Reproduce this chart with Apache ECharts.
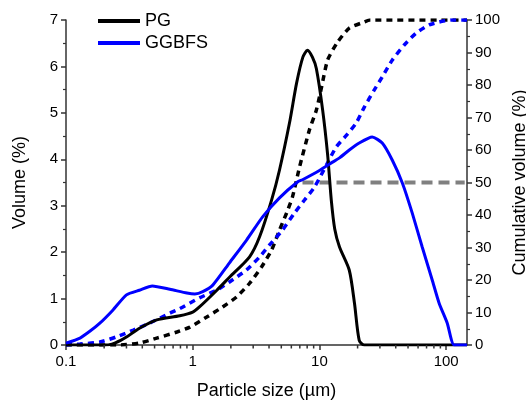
<!DOCTYPE html>
<html><head><meta charset="utf-8">
<script src="https://cdn.jsdelivr.net/npm/echarts@6/dist/echarts.min.js"></script>
<style>html,body{margin:0;padding:0;background:#fff}#c{width:526px;height:401px}</style>
</head><body><div id="c"></div>
<script>
// Particle size (µm) and volume (%) for PG
const pgSize = [0.1,0.2,0.23,0.27,0.3,0.38,0.52,0.79,1.0,1.13,1.55,1.95,2.81,3.37,4.19,4.84,5.8,6.6,7.4,8.05,8.8,9.46,10.6,11.6,12.4,13.2,14.4,17.2,18.9,20.6,22.6,146];
const pgVol  = [0,0,0.02,0.1,0.17,0.36,0.54,0.63,0.71,0.82,1.18,1.46,1.9,2.33,3.12,3.77,4.78,5.64,6.2,6.35,6.2,5.95,5.06,4.1,3.12,2.5,2.11,1.61,0.9,0.1,0,0];
// GGBFS
const ggSize = [0.1,0.129,0.155,0.185,0.234,0.3,0.38,0.48,0.66,0.9,1.04,1.2,1.44,1.95,2.66,3.56,4.84,6.71,7.35,10,12.4,14.4,17.2,20.6,26.1,31.3,37.6,45.1,54,64.7,77.6,88,102,115.6,146];
const ggVol  = [0.04,0.15,0.3,0.47,0.75,1.08,1.18,1.27,1.2,1.12,1.1,1.15,1.29,1.77,2.26,2.76,3.17,3.51,3.56,3.76,3.92,4.03,4.2,4.35,4.48,4.35,3.98,3.49,2.84,2.11,1.4,0.9,0.47,0,0];
// Cumulative volume (%)
const pgCumSize = [0.1,0.27,0.38,0.52,0.75,0.95,1.29,1.72,2.22,2.81,3.49,4.19,4.84,5.5,6.12,6.97,8.34,9.46,10.4,11.6,13.9,17.2,22.6,25,146];
const pgCum     = [0,0,0.6,2.1,4,5.5,8.6,11.7,14.8,19,24,29.2,35.4,40.6,45.5,54.8,66.2,72.3,79.4,87.7,93.2,97.5,99.4,100,100];
const ggCumSize = [0.1,0.129,0.185,0.25,0.34,0.46,0.66,0.79,1.13,1.55,1.95,2.66,3.37,4.04,5.12,6.35,7.62,9.14,11.4,13.6,16.3,19.5,22.6,27.1,31.3,37.6,46.7,58,73.5,93,110,146];
const ggCum     = [0,0.3,0.9,2.5,4.6,6.8,9.8,11.2,14.5,16.9,19.4,23.1,27.1,30.8,35.4,40.6,44.6,48.6,55.5,61,64.5,68.3,73.2,78.5,82.5,87.7,92.3,96,98.5,99.6,100,100];
// d50 reference line
const refSize = [7.35,140];
const refCum  = [50,50];
// ticks
const xMajorTicks = [0.1,1,10,100];
const xMinorTicks = [0.2,0.3,0.4,0.5,0.6,0.7,0.8,0.9,2,3,4,5,6,7,8,9,20,30,40,50,60,70,80,90];

const zip = (a,b)=>a.map((v,i)=>[v,b[i]]);
const FONT = 'Liberation Sans, Arial, sans-serif';
const axisCol = '#333';
const chart = echarts.init(document.getElementById('c'), null, {renderer:'canvas'});
chart.setOption({
  animation:false,
  backgroundColor:'#fff',
  grid:{left:66,right:59,top:20,bottom:56,outerBoundsMode:'none',containLabel:false},
  legend:{
    data:['PG','GGBFS'], orient:'vertical', left:98, top:12, padding:0, itemWidth:42, itemHeight:4, itemGap:4,
    icon:'rect', textStyle:{fontFamily:FONT,fontSize:18,color:'#000'}, selectedMode:false
  },
  xAxis:{
    type:'log', logBase:10, min:0.1, max:146, position:'bottom',
    name:'Particle size (µm)', nameLocation:'middle', nameGap:37,
    nameTextStyle:{fontFamily:FONT,fontSize:18,color:'#000'},
    axisLine:{show:true,onZero:false,lineStyle:{color:axisCol,width:1.5}},
    axisTick:{show:true,inside:false,length:5,customValues:xMajorTicks,lineStyle:{color:axisCol,width:1.5}},
    axisLabel:{show:true,customValues:xMajorTicks,margin:9,fontFamily:FONT,fontSize:15,color:'#000',
      formatter:v=>{const l=Math.log10(v);return Math.abs(l-Math.round(l))<1e-6?String(+v.toPrecision(3)):'';}},
    splitLine:{show:false}
  },
  yAxis:[{
    type:'value', min:0, max:7, interval:1, position:'left',
    name:'Volume (%)', nameLocation:'middle', nameGap:37, nameRotate:90,
    nameTextStyle:{fontFamily:FONT,fontSize:18,color:'#000'},
    axisLine:{show:true,onZero:false,lineStyle:{color:axisCol,width:1.5}},
    axisTick:{show:true,inside:false,length:5,lineStyle:{color:axisCol,width:1.5}},
    minorTick:{show:true,splitNumber:2,length:3,lineStyle:{color:axisCol,width:1.2}},
    axisLabel:{margin:8,fontFamily:FONT,fontSize:15,color:'#000'},
    splitLine:{show:false}
  },{
    type:'value', min:0, max:100, interval:10, position:'right',
    name:'Cumulative volume (%)', nameLocation:'middle', nameGap:42, nameRotate:90,
    nameTextStyle:{fontFamily:FONT,fontSize:18,color:'#000'},
    axisLine:{show:true,onZero:false,lineStyle:{color:axisCol,width:1.5}},
    axisTick:{show:true,inside:false,length:5,lineStyle:{color:axisCol,width:1.5}},
    minorTick:{show:true,splitNumber:2,length:3,lineStyle:{color:axisCol,width:1.2}},
    axisLabel:{margin:8,fontFamily:FONT,fontSize:15,color:'#000'},
    splitLine:{show:false}
  }],
  series:[
    {name:'minorTicks',type:'custom',clip:false,silent:true,z:10,
     data:xMinorTicks.map(v=>[v,0]),
     renderItem:(params,api)=>{
       const p=api.coord([api.value(0),0]);
       return {type:'line',shape:{x1:p[0],y1:p[1],x2:p[0],y2:p[1]+3.5},style:{stroke:axisCol,lineWidth:1.5}};
     }},
    {name:'d50',type:'line',yAxisIndex:1,data:zip(refSize,refCum),showSymbol:false,
     lineStyle:{color:'#808080',width:4,type:[11,6],cap:'butt'},z:1},
    {name:'PG',type:'line',data:zip(pgSize,pgVol),showSymbol:false,smooth:0.25,
     itemStyle:{color:'#000'},lineStyle:{color:'#000',width:3},z:3},
    {name:'GGBFS',type:'line',data:zip(ggSize,ggVol),showSymbol:false,smooth:0.2,
     itemStyle:{color:'#0000ff'},lineStyle:{color:'#0000ff',width:3},z:3},
    {name:'PG cumulative',type:'line',yAxisIndex:1,data:zip(pgCumSize,pgCum),showSymbol:false,smooth:0.2,
     lineStyle:{color:'#000',width:3.5,type:[6,5],cap:'butt'},z:2},
    {name:'GGBFS cumulative',type:'line',yAxisIndex:1,data:zip(ggCumSize,ggCum),showSymbol:false,smooth:0.2,
     lineStyle:{color:'#0000ff',width:3.5,type:[6,5],cap:'butt'},z:2}
  ]
});
</script></body></html>
